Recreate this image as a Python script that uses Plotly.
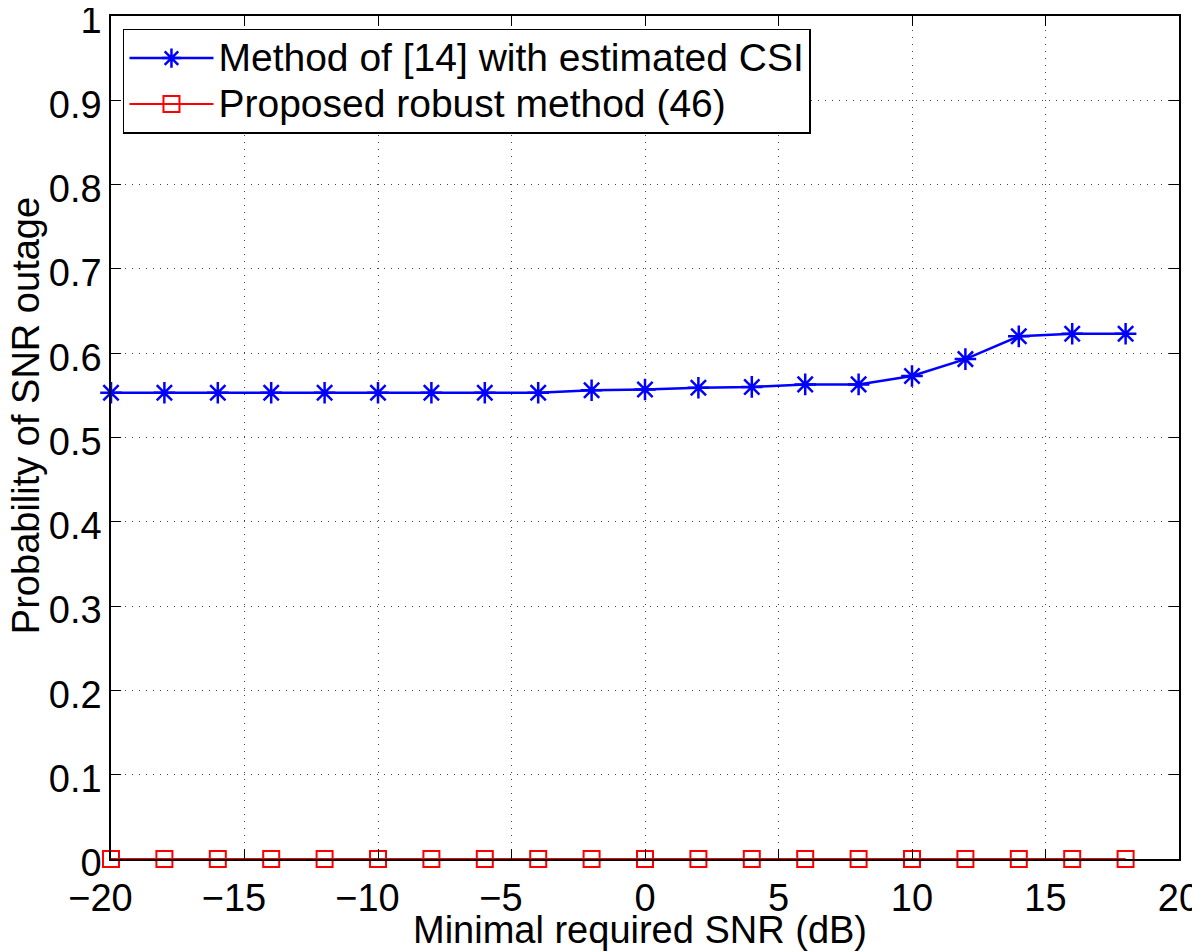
import plotly.graph_objects as go

snr_db = [-20, -18, -16, -14, -12, -10, -8, -6, -4, -2, 0, 2, 4, 6, 8, 10, 12, 14, 16, 18]
method14 = [0.553, 0.553, 0.553, 0.553, 0.553, 0.553, 0.553, 0.553, 0.553, 0.556,
            0.557, 0.559, 0.560, 0.563, 0.563, 0.573, 0.593, 0.620, 0.623, 0.623]
proposed = [0.0] * 20

series_names = ["Method of [14] with estimated CSI", "Proposed robust method (46)"]

x_ticks = [-20, -15, -10, -5, 0, 5, 10, 15, 20]
# negative labels padded so the digits centre on the tick, as in the original
x_tick_text = ["\u221220\u00a0\u00a0", "\u221215\u00a0\u00a0", "\u221210\u00a0\u00a0",
               "\u22125\u00a0\u00a0", "0", "5", "10", "15", "20"]
y_ticks = [0, 0.1, 0.2, 0.3, 0.4, 0.5, 0.6, 0.7, 0.8, 0.9, 1]
y_tick_text = ["0", "0.1", "0.2", "0.3", "0.4", "0.5", "0.6", "0.7", "0.8", "0.9", "1"]

x_title = "Minimal required SNR (dB)"
y_title = "Probability of SNR outage"

FONT = "Liberation Sans, Arial, Helvetica, sans-serif"


def legend_label(s):
    return '<span style="font-size:39px">' + s + "</span>"


fig = go.Figure()
fig.add_trace(go.Scatter(
    x=snr_db, y=method14, mode="lines+markers",
    name=legend_label(series_names[0]),
    line=dict(color="#0000ff", width=2.5),
    marker=dict(symbol="asterisk-open", size=18, color="#0000ff",
                line=dict(color="#0000ff", width=2.5)),
    cliponaxis=False,
))
fig.add_trace(go.Scatter(
    x=snr_db, y=proposed, mode="lines+markers",
    name=legend_label(series_names[1]),
    line=dict(color="#ff0000", width=2),
    marker=dict(symbol="square-open", size=16, color="#ff0000",
                line=dict(color="#ff0000", width=2)),
    cliponaxis=False,
))

axis_common = dict(
    showline=True, linecolor="black", linewidth=1.5, mirror="allticks",
    ticks="inside", ticklen=10, tickwidth=1.2, tickcolor="black",
    showgrid=True, gridcolor="#444444", gridwidth=1, griddash="1px,6px",
    zeroline=False, automargin=False, ticklabeloverflow="allow",
    tickfont=dict(family=FONT, size=38, color="black"),
)

# the page body adds an 8px offset; sizes/margins compensate so the plot lands where the reference has it
fig.update_layout(
    width=1192, height=944,
    paper_bgcolor="white", plot_bgcolor="white",
    margin=dict(l=103, r=21, t=8, b=93),
    font=dict(family=FONT, size=38, color="black"),
    xaxis=dict(range=[-20, 20], tickvals=x_ticks, ticktext=x_tick_text,
               ticklabelstandoff=5, **axis_common),
    yaxis=dict(range=[0, 1], tickvals=y_ticks, ticktext=y_tick_text,
               ticklabelshift=4, **axis_common),
    legend=dict(x=0.0112, y=0.985, xanchor="left", yanchor="top",
                bgcolor="white", bordercolor="black", borderwidth=1.5,
                font=dict(family=FONT, size=33, color="black"),
                itemwidth=84, tracegroupgap=0),
    showlegend=True,
    annotations=[
        dict(text=x_title, xref="paper", yref="paper", x=0.4953, y=-0.0842,
             xanchor="center", yanchor="middle", showarrow=False,
             font=dict(family=FONT, size=38, color="black")),
        dict(text=y_title, xref="paper", yref="paper", x=-0.080, y=0.526,
             xanchor="center", yanchor="middle", showarrow=False, textangle=-90,
             font=dict(family=FONT, size=38, color="black")),
    ],
)

fig.write_html("out.html")
